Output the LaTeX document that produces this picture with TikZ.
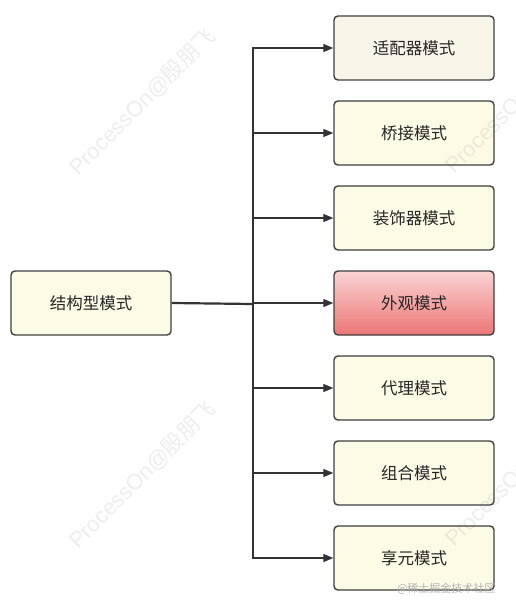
\documentclass[tikz,border=0pt]{standalone}
\usepackage{fontspec}
\newfontfamily\cjk{Noto Sans CJK SC}
\usetikzlibrary{arrows.meta}
\definecolor{boxfill}{HTML}{FCFBE6}
\definecolor{boxfilla}{HTML}{F8F6E8}
\definecolor{boxline}{HTML}{3F3F3F}
\definecolor{redtop}{HTML}{FAD3D3}
\definecolor{redbot}{HTML}{EC7676}
\tikzset{
  x=1pt,y=1pt,
  box/.style={draw=boxline,line width=1.4pt,rounded corners=4pt,fill=boxfill,
    minimum width=160pt,minimum height=64pt,inner sep=0pt,font=\cjk\fontsize{16.5}{19}\selectfont,text=black!85},
  redbox/.style={box,top color=redtop,bottom color=redbot},
  conn/.style={draw=black!80,line width=1.2pt},
  arr/.style={conn,-{Triangle[length=10pt,width=8pt]}},
  wmark/.style={text=black,text opacity=0.07,inner sep=0pt,anchor=base west,
    font=\fontspec{Liberation Sans}\fontsize{22}{26}\selectfont,rotate=45},
}
\begin{document}
\begin{tikzpicture}
\useasboundingbox (0,0) rectangle (515,-609);
% boxes
\node[box] (src) at (91,-303) {结构型模式};
\node[box,fill=boxfilla] (t1) at (414,-48) {适配器模式};
\node[box] (t2) at (414,-133) {桥接模式};
\node[box] (t3) at (414,-218) {装饰器模式};
\node[redbox] (t4) at (414,-303) {外观模式};
\node[box] (t5) at (414,-388) {代理模式};
\node[box] (t6) at (414,-473) {组合模式};
\node[box] (t7) at (414,-558) {享元模式};
\coordinate (j) at (253,-304);
\draw[conn,line width=2.2pt] (src.east) -- (j);
\foreach \t in {t1,t2,t3,t4,t5,t6,t7}{
  \draw[arr] (j) |- (\t.west);
}
% watermarks
\node[wmark] (w1) at (78,-177) {ProcessOn@\cjk 殷朋飞};
\node[wmark] (w2) at (78,-550) {ProcessOn@\cjk 殷朋飞};
\node[wmark] (w3) at (454,-175) {ProcessOn@\cjk 殷朋飞};
\node[wmark] (w4) at (454,-548) {ProcessOn@\cjk 殷朋飞};
\node[text=black!30,font=\cjk\fontsize{11}{13}\selectfont,anchor=east] (wm5) at (499,-589) {@稀土掘金技术社区};
\end{tikzpicture}
\end{document}
